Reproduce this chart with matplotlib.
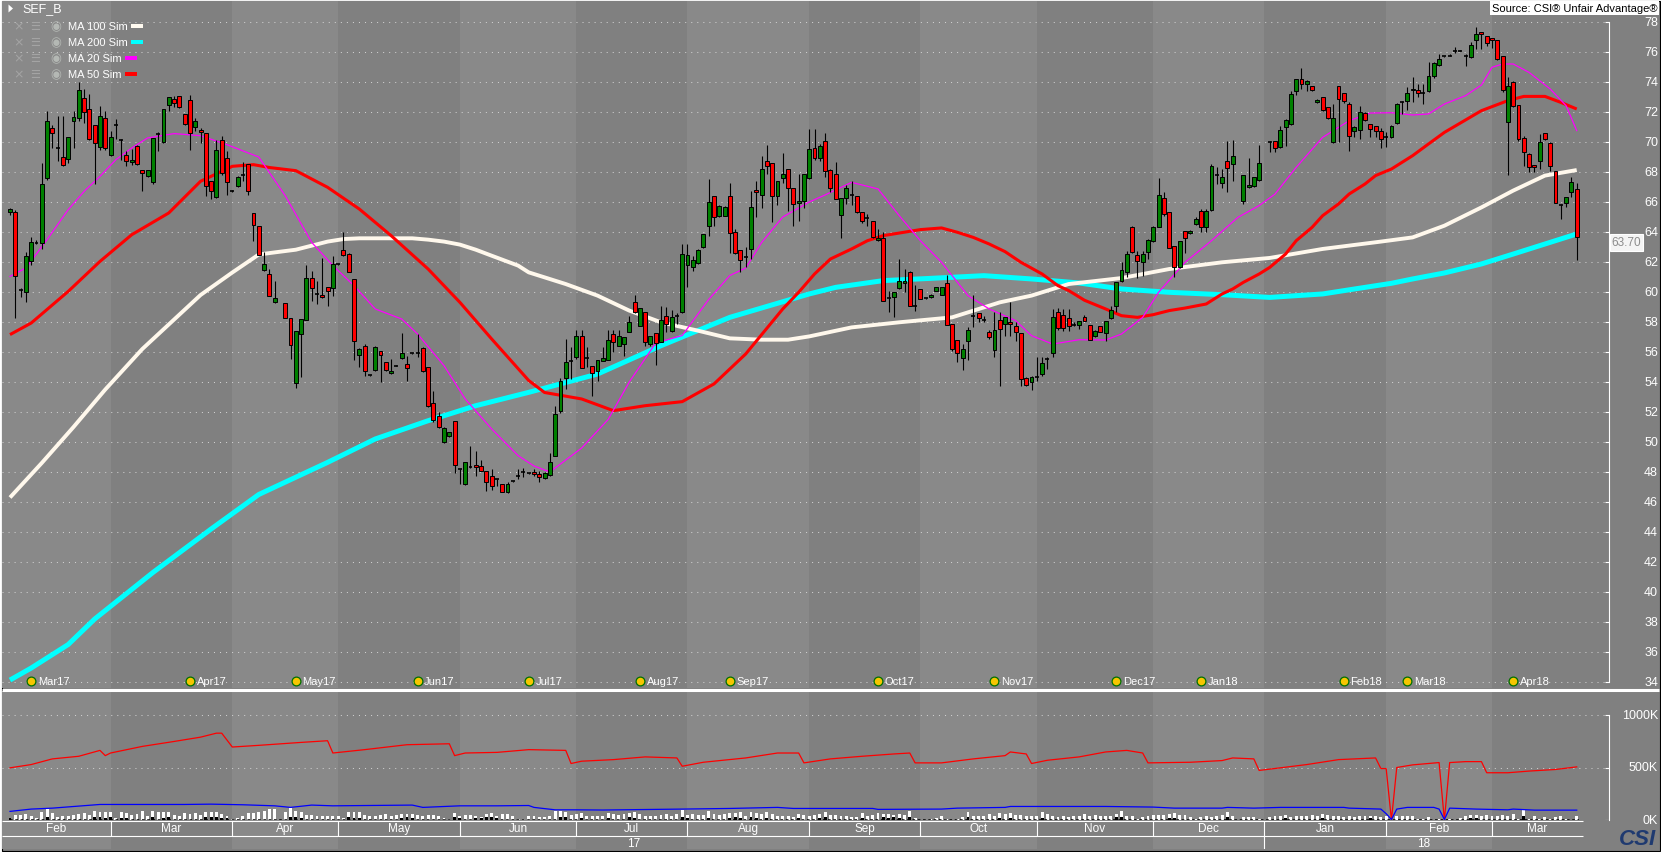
import numpy as np
import matplotlib
matplotlib.use("Agg")
import matplotlib.pyplot as plt
from matplotlib.transforms import blended_transform_factory
from matplotlib.patches import Rectangle, Polygon

plt.rcParams['font.family'] = ['Liberation Sans', 'DejaVu Sans']
plt.rcParams['lines.scale_dashes'] = False

# ---------------- data ----------------
symbol = "SEF_B"
source_text = "Source: CSI\u00ae Unfair Advantage\u00ae"
last_price = 63.70

# daily OHLC (weekday index; None = exchange holiday)
opens = [65.33,65.33,60.16,60.0,62.04,63.3,63.27,67.6,70.93,69.58,68.98,68.87,71.4,71.6,72.93,72.2,71.13,69.67,71.6,69.11,
 71.13,70.16,69.11,68.69,69.71,68.11,67.71,67.31,70.56,69.98,72.47,72.87,73.09,71.87,72.8,71.0,70.8,70.6,67.42,66.33,
 70.11,68.93,66.76,67.04,67.82,68.53,65.27,64.38,61.49,61.2,59.31,None,59.24,58.24,53.91,57.18,58.16,60.91,59.87,59.8,
 60.31,60.24,61.87,62.8,62.53,60.84,55.82,56.38,54.47,54.82,56.05,55.31,54.58,55.09,55.6,55.18,55.91,55.91,56.27,54.98,
 52.58,51.76,49.98,50.38,51.38,48.2,47.2,48.31,48.49,48.38,48.09,47.76,47.53,47.2,46.64,47.38,47.76,48.02,47.93,48.02,
 47.84,47.58,47.82,49.09,52.09,54.24,55.42,55.64,57.04,55.58,55.09,54.71,55.42,55.49,57.18,56.42,56.53,57.36,59.31,57.76,
 58.64,56.53,57.24,56.64,58.38,57.42,58.38,58.64,61.82,61.69,61.96,62.98,64.38,66.38,65.04,65.09,66.38,63.98,62.82,62.31,
 62.84,66.8,66.49,68.71,68.58,66.42,67.62,68.18,66.91,65.91,66.04,67.58,69.58,68.91,70.09,68.13,67.87,65.16,66.24,66.49,
 66.38,65.36,64.91,64.71,63.47,63.58,59.6,59.64,60.24,60.6,61.31,59.09,60.2,59.58,59.64,60.09,59.82,60.58,57.87,56.8,
 55.58,56.76,58.42,58.58,58.13,57.31,56.13,58.13,57.87,57.98,57.71,57.24,54.24,53.98,54.31,54.53,55.53,55.91,58.64,58.49,
 58.24,57.82,57.82,58.36,57.82,57.09,57.71,57.24,58.24,59.04,60.71,61.36,64.31,62.47,61.98,62.64,63.38,64.31,66.24,65.31,
 63.04,61.64,64.09,63.91,64.53,65.38,64.31,65.49,67.8,67.24,68.76,68.53,None,66.09,66.98,67.09,67.47,None,69.98,70.04,
 69.64,70.98,71.2,73.38,74.2,73.87,73.71,72.64,72.98,72.31,69.98,73.71,73.24,72.53,70.71,70.82,71.91,71.2,71.09,70.76,
 70.31,70.31,71.27,72.69,72.76,73.47,73.49,73.27,73.42,74.38,75.16,75.71,75.76,76.09,76.09,75.76,75.64,76.82,77.31,77.04,
 76.91,76.8,75.71,71.31,74.02,72.47,70.24,69.2,68.47,68.71,70.58,69.93,68.04,65.82,65.93,66.64,66.87]
highs = [65.6,65.44,60.27,62.64,63.67,63.5,68.6,72.09,71.16,71.76,71.76,70.33,72.04,74.0,73.53,73.2,71.16,72.38,72.09,70.76,
 71.53,70.22,69.38,69.53,69.82,68.11,68.16,70.24,70.64,72.2,73.0,73.04,73.09,71.87,73.11,71.6,70.93,70.6,67.42,70.16,
 70.38,69.38,66.8,67.71,68.67,68.53,65.27,64.4,62.64,61.53,60.76,None,59.24,58.24,57.38,58.18,61.8,61.38,60.76,62.27,
 60.31,62.42,61.9,64.02,62.6,60.84,56.27,56.53,54.5,56.38,56.05,55.31,55.53,55.12,57.24,55.76,55.95,57.2,56.31,54.98,
 53.38,51.98,50.98,50.69,51.38,48.2,48.64,49.76,49.42,48.82,48.09,48.2,47.56,47.2,47.31,47.4,48.2,48.24,47.96,48.2,
 48.09,47.98,49.27,52.42,54.3,56.87,56.31,57.47,57.47,56.31,55.09,55.49,56.31,57.47,57.47,57.47,56.98,58.42,59.8,58.91,
 58.64,57.04,57.24,59.09,58.98,58.8,58.6,63.2,63.2,62.42,62.87,63.84,67.53,66.38,65.8,65.71,67.27,64.2,62.82,62.98,
 66.76,67.42,69.09,69.8,68.58,67.38,69.24,68.18,66.91,67.84,67.84,70.87,70.87,69.87,70.6,68.2,68.64,66.24,67.13,67.42,
 66.38,65.36,65.18,64.71,64.2,64.02,60.09,59.98,62.2,61.53,61.38,60.47,60.2,59.62,59.87,60.36,60.36,61.16,57.87,56.8,
 56.53,57.64,59.8,58.58,58.42,57.49,58.64,58.64,58.31,59.31,57.98,57.24,54.31,54.42,55.64,55.64,55.64,58.87,58.93,58.87,
 58.87,57.98,58.04,58.49,57.82,57.47,57.71,58.09,59.09,60.64,61.98,62.76,64.38,62.76,62.76,63.53,64.38,67.6,66.69,65.31,
 63.04,63.42,64.09,64.13,64.98,65.53,65.53,68.53,68.31,68.2,70.09,70.13,None,67.82,68.93,67.69,69.82,None,70.04,70.04,
 71.09,71.53,73.42,74.2,74.93,74.13,73.76,72.87,72.98,72.31,72.53,73.71,73.24,72.64,71.04,72.42,71.98,71.2,71.09,70.93,
 70.64,71.13,72.6,72.76,73.64,74.31,73.87,73.87,75.31,75.31,75.87,75.76,75.87,76.36,76.12,75.87,76.64,77.64,77.36,77.09,
 76.91,76.8,75.71,74.36,74.09,72.47,70.42,69.24,68.47,70.53,70.58,70.02,68.04,65.87,66.31,67.69,67.27]
lows = [65.13,58.27,59.67,59.33,61.82,63.2,62.87,67.49,69.6,68.71,68.42,68.6,69.6,71.38,71.27,70.16,67.22,69.49,69.44,69.04,
 70.22,68.82,68.38,68.49,68.47,66.71,67.67,67.22,69.38,69.93,72.04,72.33,72.27,71.16,69.44,70.71,69.93,66.38,66.2,66.24,
 67.78,66.49,66.7,66.98,67.38,66.49,63.38,62.45,61.38,59.76,59.27,None,58.24,55.53,53.58,54.36,58.16,59.42,59.2,59.58,
 59.09,59.76,61.8,62.38,61.31,55.49,54.98,54.42,54.4,54.76,53.98,54.76,54.53,55.05,55.53,54.09,55.87,55.64,54.64,52.31,
 51.36,50.91,49.91,50.31,47.91,47.2,47.16,48.3,47.76,48.05,46.71,46.82,47.09,46.64,46.6,47.35,47.53,47.64,47.9,47.76,
 47.31,47.53,47.76,49.09,51.93,53.53,54.2,55.53,54.91,54.98,53.04,54.09,55.42,55.49,56.02,56.38,55.71,57.36,58.6,57.71,
 56.38,56.38,55.16,56.64,57.31,57.36,57.87,58.6,60.31,61.42,61.87,62.91,63.71,64.42,64.98,65.04,62.58,62.53,61.36,61.64,
 62.2,64.98,65.6,67.87,64.64,65.82,67.27,65.38,64.42,64.76,65.6,67.53,68.82,68.76,67.64,66.64,66.2,63.58,65.87,65.82,
 65.27,64.58,64.42,63.58,63.42,59.38,58.64,58.31,60.2,59.98,59.04,58.76,59.53,59.54,59.6,60.04,59.8,57.82,56.09,55.31,
 54.82,55.49,57.64,57.98,57.98,56.87,55.64,53.71,57.09,57.09,56.76,53.76,53.76,53.49,54.09,54.42,54.87,55.64,57.49,57.42,
 57.42,57.76,57.53,58.04,56.82,57.02,57.31,56.76,58.2,58.69,60.64,61.02,62.6,60.93,61.09,62.2,63.31,64.31,65.09,62.91,
 61.02,61.58,62.58,63.87,64.49,63.98,63.98,65.42,67.2,66.91,66.64,67.42,None,65.87,66.93,67.02,67.38,None,69.31,69.36,
 69.6,69.76,71.16,73.16,73.53,73.38,73.42,72.58,72.09,71.53,69.91,69.98,72.58,69.38,70.31,70.2,71.38,70.31,70.31,69.6,
 69.69,70.24,71.2,71.87,72.16,72.64,73.0,72.53,73.36,74.29,75.09,75.64,75.71,75.93,76.06,75.09,75.58,76.2,76.2,76.42,
 76.24,75.49,73.36,67.82,72.31,70.09,68.42,67.98,68.02,68.2,70.13,68.09,65.93,64.87,65.64,66.31,62.16]
closes = [65.53,61.04,60.16,62.38,63.31,63.3,67.2,71.42,70.6,69.58,68.47,70.33,71.67,73.47,72.02,70.2,69.93,71.71,69.6,70.33,
 71.13,70.16,68.76,68.82,68.53,67.93,68.11,70.24,70.56,72.2,73.0,72.6,72.31,71.22,70.6,71.42,70.67,67.09,66.71,69.49,
 67.93,67.33,66.76,67.67,67.82,66.76,64.49,62.49,61.87,59.76,59.58,None,58.24,56.49,57.38,58.18,60.91,60.24,59.87,59.64,
 60.09,61.87,61.87,62.49,61.31,56.71,56.2,54.71,54.47,56.31,55.8,54.82,54.76,55.09,55.91,54.91,55.91,55.91,54.76,52.38,
 51.47,50.98,50.91,50.64,48.49,48.2,48.64,48.31,48.31,48.05,47.31,47.09,47.53,46.64,47.2,47.38,47.76,48.02,47.93,47.87,
 47.64,47.91,48.64,51.87,54.09,55.31,55.42,57.04,54.91,55.58,54.58,55.49,55.58,56.8,56.64,57.09,56.98,57.98,58.64,58.91,
 56.64,57.04,56.58,58.13,57.87,58.31,58.38,62.53,62.49,62.13,62.8,63.84,65.98,64.98,65.71,65.64,63.91,62.58,62.16,62.31,
 65.64,66.64,68.18,68.38,66.38,67.38,67.84,66.96,65.84,66.07,67.84,69.51,68.91,69.71,68.04,66.91,66.2,66.24,66.91,66.49,
 65.31,64.71,64.91,63.64,63.6,59.42,59.6,59.98,60.71,60.76,59.04,59.09,59.53,59.58,59.82,60.31,60.31,57.82,56.2,55.91,
 56.2,57.47,58.42,58.24,58.13,56.98,57.47,57.53,58.31,57.87,57.31,54.2,53.8,54.31,54.31,55.24,55.53,58.31,57.58,57.6,
 57.76,57.82,58.04,58.04,56.82,57.42,57.36,58.04,58.82,60.64,61.49,62.53,62.64,62.09,62.53,63.49,64.31,66.47,65.2,62.91,
 61.64,63.38,63.6,64.09,64.87,64.31,65.42,68.38,67.8,67.64,68.24,69.04,None,67.82,67.16,67.69,68.58,None,69.98,69.58,
 70.82,71.49,73.18,74.2,73.87,74.09,73.47,72.8,72.13,71.58,71.58,72.87,72.71,70.42,71.0,71.98,71.47,70.87,70.71,70.2,
 70.31,71.09,72.53,72.69,73.24,73.56,73.29,73.27,74.38,75.27,75.53,75.71,75.76,76.09,76.09,75.76,76.49,77.2,77.2,76.6,
 76.82,75.53,73.47,73.71,72.38,70.2,69.31,68.36,68.36,69.98,70.2,68.38,65.93,65.82,66.31,67.36,63.70]

# moving averages (bar index, value)
ma200_idx = [0,4,11,16,27,38,47,60,69,79,88,98,111,123,136,151,156,165,174,184,193,202,210,219,229,238,248,254,261,265,271,278,284,290,296]
ma200_val = [34.13,34.93,36.5,38.2,41.3,44.2,46.5,48.64,50.2,51.42,52.42,53.31,54.53,56.42,58.31,59.87,60.31,60.76,60.91,61.09,
 60.87,60.6,60.2,59.98,59.82,59.64,59.87,60.2,60.58,60.87,61.27,61.87,62.53,63.2,63.87]
ma100_idx = [0,6,12,18,25,36,42,47,50,54,57,60,63,66,72,76,79,82,85,88,91,96,98,105,111,117,123,130,136,142,147,151,159,168,178,187,193,200,210,219,229,238,248,259,265,271,278,284,290,296]
ma100_val = [46.3,48.6,51.0,53.5,56.2,59.8,61.3,62.5,62.64,62.82,63.09,63.36,63.53,63.58,63.58,63.58,63.49,63.36,63.16,62.82,
 62.42,61.76,61.31,60.53,59.76,58.76,57.98,57.42,56.91,56.82,56.82,57.04,57.64,57.98,58.31,59.31,59.76,60.53,60.93,61.53,
 61.98,62.27,62.87,63.36,63.64,64.42,65.64,66.76,67.76,68.13]
ma50_idx = [0,4,11,17,23,30,36,42,46,49,54,60,66,72,79,85,91,98,101,108,114,120,127,133,139,146,149,152,155,159,162,165,168,172,176,
 179,182,185,188,191,195,198,200,203,207,210,213,216,219,222,226,229,231,233,236,238,241,243,246,248,251,253,256,258,261,265,268,271,278,283,286,290,293,296]
ma50_val = [57.16,57.93,60.04,62.04,63.82,65.27,67.38,68.38,68.49,68.3,68.09,66.98,65.53,63.76,61.53,59.31,56.87,54.1,53.3,52.87,
 52.09,52.42,52.69,53.87,55.87,58.87,59.98,61.2,62.2,62.87,63.42,63.76,63.93,64.16,64.27,
 63.98,63.64,63.2,62.69,61.98,61.2,60.42,60.1,59.45,58.87,58.42,58.31,58.49,58.76,58.93,59.2,59.87,60.2,60.64,61.2,
 61.64,62.53,63.42,64.31,65.09,65.87,66.53,67.2,67.76,68.2,69.09,69.87,70.64,72.09,72.76,73.04,73.04,72.64,72.2]
ma20_idx = [0,3,7,11,14,17,20,23,26,31,36,41,47,52,57,61,65,69,74,77,82,86,91,96,99,102,108,113,117,122,127,132,136,139,142,146,151,154,159,164,168,172,176,181,185,190,193,197,202,207,210,214,217,222,227,232,236,239,243,248,253,257,261,265,268,271,275,278,280,282,284,287,291,294,296]
ma20_val = [61.04,61.6,63.49,65.49,66.71,67.71,68.82,69.6,70.27,70.56,70.42,69.82,69.0,66.42,63.31,61.76,60.42,58.87,58.2,57.2,
 55.09,52.87,50.87,49.09,48.4,48.0,49.6,51.5,54.0,56.6,57.1,59.5,61.1,61.6,63.3,65.0,66.0,66.47,67.31,66.87,
 65.09,63.42,61.98,59.76,58.87,58.09,57.09,56.53,56.82,56.8,57.2,58.31,59.98,61.98,63.42,64.98,65.76,66.53,68.31,70.31,
 71.42,71.93,71.95,71.8,71.87,72.53,73.09,73.8,74.98,75.2,75.2,74.64,73.53,72.42,70.76]

# volume (thousands), second (black) volume series, open interest and volume average
volume_k = [19,47,47,57,41,19,79,104,63,31, 41,41,47,57,63,47,82,79,72,72, 15,72,63,47,53,88,41,82,79,72,
 72,47,41,63,57,63,47,79,79,79, 57,41,9,19,41,63,63,72,82,104, 104,None,79,113,88,79,47,47,35,41,
 41,35,41,19,72,79,72,47,41,35, 47,57,41,47,57,57,57,47,35,47, 47,41,19,9,63,41,47,47,41,25,
 57,63,41,57,57,41,9,5,41,35, 25,25,35,82,82,79,47,57,63,41, 41,41,35,63,57,47,57,63,72,57,
 41,35,41,50,57,41,57,94,50,57, 47,47,82,57,50,57,63,63,72,41, 72,63,57,72,57,41,35,41,31,57,
 47,35,50,57,72,50,47,35,41,25, 25,63,41,47,63,57,57,50,57,47, 82,16,3,3,9,16,41,9,3,9,
 25,72,41,35,35,57,41,63,57,66, 50,47,41,41,41,72,57,41,25,41, 25,35,41,57,41,47,41,35,41,57,
 88,41,41,9,25,41,47,47,50,57, 63,47,47,25,9,25,41,25,35,47, 72,41,None,25,25,25,9,None,25,35,
 35,47,25,35,41,41,47,41,57,47, 41,41,31,35,25,41,35,35,41,25, 41,0,41,41,41,41,9,9,25,3,
 9,0,9,3,16,35,47,47,41,47, 35,41,47,35,57,9,94,9,35,9, 25,9,25,41,9,3,35]
black_idx = [0,7,16,17,18,19,21,22,27,29,30,37,38,39,40,41,53,54,55,64,65,66,74,75,76,84,85,88,89,90,91,92,104,105,108,113,
 117,118,127,128,132,136,137,138,140,141,143,149,153,154,161,165,166,167,168,170,181,187,189,195,209,210,219,220,230,241,248,257,276,277,286]
black_k = [16,25,25,25,19,25,19,16,25,19,25,25,28,25,19,16,31,25,19,25,19,19,19,25,16,25,16,19,16,25,25,19,25,25,19,19,
 25,19,28,16,19,19,25,19,25,16,19,16,19,25,19,25,19,25,19,25,25,19,16,19,25,31,19,16,28,16,19,16,19,16,41]
oi_idx = [0,4,8,13,17,18,19,25,31,36,39,40,42,47,55,60,61,67,75,83,84,86,92,98,105,106,108,114,120,126,127,131,139,145,149,150,
 155,161,167,170,171,176,182,188,189,192,193,196,202,207,211,214,215,223,229,231,235,236,245,251,258,259,260,261,262,265,270,271,272,275,278,279,283,287,292,296]
oi_k = [497,528,582,607,663,613,638,701,748,789,827,827,695,711,739,755,638,670,717,726,613,638,644,670,663,538,560,575,601,591,
 512,550,591,638,638,544,582,607,629,638,544,544,582,613,648,629,538,569,601,648,663,638,544,550,566,591,582,472,528,575,
 591,490,490,0,500,525,547,0,547,556,556,450,450,466,481,506]
avg_idx = [0,4,8,17,33,38,44,50,53,57,61,76,78,85,92,98,99,103,107,112,127,136,145,148,163,164,176,179,188,189,207,216,220,229,230,
 235,240,252,253,259,260,261,262,264,269,270,271,272,277,283,284,288,296]
avg_k = [82,104,113,148,148,151,145,135,120,142,135,142,120,135,135,138,120,97,97,95,104,110,120,110,110,101,104,113,120,129,
 129,123,113,113,120,113,120,120,113,104,60,5,104,120,120,104,5,113,104,97,104,94,94]

# calendar axis
month_labels = ['Feb','Mar','Apr','May','Jun','Jul','Aug','Sep','Oct','Nov','Dec','Jan','Feb','Mar']
month_starts = [0,19,42,62,85,107,128,151,172,194,216,237,260,280]
year_labels = ['17','18']
year_starts = [0,237]
contract_labels = ['Mar17','Apr17','May17','Jun17','Jul17','Aug17','Sep17','Oct17','Nov17','Dec17','Jan18','Feb18','Mar18','Apr18']
contract_idx = [4,34,54,77,98,119,136,164,186,209,225,252,264,284]
price_ticks = list(range(34, 79, 2))
vol_ticks = [0, 500, 1000]
vol_tick_labels = ['0K', '500K', '1000K']
legend_rows = [('MA 100 Sim', '#fffaf0'), ('MA 200 Sim', '#00ffff'), ('MA 20 Sim', '#ff00ff'), ('MA 50 Sim', '#ff0000')]

# ---------------- figure ----------------
W, H = 1661.0, 853.0
fig = plt.figure(figsize=(W/100, H/100), dpi=100, facecolor='white')

def rect(x0, y0, x1, y1):
    return [x0/W, 1 - y1/H, (x1-x0)/W, (y1-y0)/H]

bg = fig.add_axes([0, 0, 1, 1], zorder=-10)
bg.set_xlim(0, W); bg.set_ylim(H, 0); bg.axis('off')
bg.add_patch(Rectangle((1.5, 1.5), W-3, H-3, facecolor='#808080', edgecolor='black', lw=0.8))

n = len(closes)
O = np.array(opens, dtype=float); Hh = np.array(highs, dtype=float)
L = np.array(lows, dtype=float); C = np.array(closes, dtype=float)
X = np.arange(n)
valid = ~np.isnan(C)

XL, XR = -1.511, 302.1
axis_end = n + 0.2
LIGHT, DARK = '#898989', '#808080'

ax = fig.add_axes(rect(2, 2, 1609, 689))
vax = fig.add_axes(rect(2, 692, 1609, 821))
xax = fig.add_axes(rect(2, 821, 1609, 850))

bounds = [XL] + month_starts[1:] + [XR]
for a in (ax, vax, xax):
    a.set_xlim(XL, XR)
    a.set_facecolor('none')
    for k in range(len(month_starts)):
        a.axvspan(bounds[k], bounds[k+1], color=LIGHT if k % 2 == 0 else DARK, lw=0, zorder=0)
    a.set_xticks([])
    for s in ('top', 'left', 'bottom', 'right'):
        a.spines[s].set_visible(False)

# --- price panel ---
ax.set_ylim(78 - (689-23)/15.0, 78 + (23-2)/15.0)
for p in price_ticks:
    ax.axhline(p, color='#cfcfcf', lw=0.75, ls=(0, (0.75, 3.6)), zorder=1)
ax.spines['right'].set_visible(True)
ax.spines['right'].set_color('white'); ax.spines['right'].set_linewidth(0.8)
ax.spines['right'].set_bounds(price_ticks[0], price_ticks[-1])
ax.yaxis.tick_right()
ax.set_yticks(price_ticks)
ax.tick_params(axis='y', direction='in', length=3, width=0.8, color='white', labelright=False, labelleft=False)

ax.plot(ma200_idx, ma200_val, color='#00ffff', lw=3.6, zorder=2, solid_capstyle='butt', solid_joinstyle='round')
ax.plot(ma100_idx, ma100_val, color='#fff8ec', lw=2.8, zorder=2.1, solid_capstyle='butt', solid_joinstyle='round')
ax.plot(ma50_idx, ma50_val, color='#ff0000', lw=2.2, zorder=2.2, solid_capstyle='butt', solid_joinstyle='round')
ax.plot(ma20_idx, ma20_val, color='#ff00ff', lw=0.9, zorder=2.3)

ax.vlines(X[valid], L[valid], Hh[valid], color='black', lw=0.8, zorder=3)
up = valid & (C > O); dn = valid & (C < O); dj = valid & (C == O)
bw = 0.74
ax.bar(X[up], (C-O)[up], bottom=O[up], width=bw, color='#008000', edgecolor='black', lw=0.7, zorder=4)
ax.bar(X[dn], (O-C)[dn], bottom=C[dn], width=bw, color='#ff0000', edgecolor='black', lw=0.7, zorder=4)
ax.hlines(C[dj], X[dj]-bw/2, X[dj]+bw/2, color='black', lw=1.2, zorder=4)

mk_tr = blended_transform_factory(ax.transData, ax.transAxes)
mk_y = (689-682)/687.0
ax.scatter(contract_idx, [mk_y]*len(contract_idx), s=40, c='#f7c600', edgecolors='#007000',
           linewidths=0.9, transform=mk_tr, zorder=6, clip_on=False)
for lab, ix in zip(contract_labels, contract_idx):
    ax.annotate(lab, (ix, mk_y), xycoords=mk_tr, xytext=(4.8, 0), textcoords='offset points',
                va='center', ha='left', color='white', fontsize=8, zorder=6)

# --- volume panel ---
vtop = (821-692)/105.0*1000
vax.set_ylim(0, vtop)
for v in vol_ticks[1:]:
    vax.axhline(v, color='#cfcfcf', lw=0.75, ls=(0, (0.75, 3.6)), zorder=1)
vax.spines['right'].set_visible(True)
vax.spines['right'].set_color('white'); vax.spines['right'].set_linewidth(0.8)
vax.spines['right'].set_bounds(vol_ticks[0], vol_ticks[-1])
vax.yaxis.tick_right()
vax.set_yticks(vol_ticks)
vax.tick_params(axis='y', direction='in', length=3, width=0.8, color='white', labelright=False, labelleft=False)
VOL = np.array(volume_k, dtype=float)
vv = ~np.isnan(VOL)
vax.bar(X[vv], VOL[vv], width=0.55, color='white', lw=0, zorder=3)
vax.bar(black_idx, black_k, width=0.55, color='black', lw=0, zorder=3.5)
vax.hlines(4, XL + 1.5, n - 0.5, color='black', lw=1.1, ls=(0, (1.9, 1.9)), zorder=3.6)
vax.plot(oi_idx, oi_k, color='#ff0000', lw=0.9, zorder=4)
vax.plot(avg_idx, avg_k, color='#0000ff', lw=0.9, zorder=4)

# --- date axis rows ---
xax.set_ylim(850, 821)
xax.set_yticks([])
xax.hlines(822, XL, axis_end, color='white', lw=0.8)
xax.hlines(836.7, XL, axis_end, color='white', lw=0.8)
for ms in month_starts[1:]:
    xax.vlines(ms, 822, 850 if ms in year_starts[1:] else 836.5, color='white', lw=0.8)
mb = [XL] + month_starts[1:] + [axis_end]
for k, lab in enumerate(month_labels):
    xax.text((mb[k] + mb[k+1]) / 2, 829.3, lab, ha='center', va='center', color='white', fontsize=8.5)
yb = [XL] + year_starts[1:] + [axis_end]
for k, lab in enumerate(year_labels):
    xax.text((yb[k] + yb[k+1]) / 2, 844.2, lab, ha='center', va='center', color='white', fontsize=8.5)

# --- foreground decorations ---
fg = fig.add_axes([0, 0, 1, 1], zorder=10)
fg.set_xlim(0, W); fg.set_ylim(H, 0); fg.axis('off'); fg.patch.set_alpha(0)
fg.plot([2, W-2], [690.5, 690.5], color='white', lw=2.2, solid_capstyle='butt')

ptr = blended_transform_factory(fg.transData, ax.transData)
for p in price_ticks:
    fg.text(1658, p, str(p), transform=ptr, ha='right', va='center', color='white', fontsize=9)
vtr = blended_transform_factory(fg.transData, vax.transData)
for v, lab in zip(vol_ticks, vol_tick_labels):
    fg.text(1658, v, lab, transform=vtr, ha='right', va='center', color='white', fontsize=9)

fg.text(1626.5, last_price, f"{last_price:.2f}", transform=ptr, ha='center', va='top', color='#8c8c8c',
        fontsize=8.5, bbox=dict(boxstyle='square,pad=0.18', facecolor='#f4f4f4', edgecolor='white', lw=0.8))

fg.text(1657, 9, source_text, ha='right', va='center', color='black', fontsize=8,
        bbox=dict(boxstyle='square,pad=0.15', facecolor='white', edgecolor='none'))

fg.add_patch(Polygon([(8.5, 5.5), (8.5, 13.5), (13, 9.5)], closed=True, facecolor='white', edgecolor='none'))
fg.text(22, 9.5, symbol, ha='left', va='center', color='white', fontsize=9)

row_y = [27, 43, 59, 75]
legend_texts = []
for (lab, col), yy in zip(legend_rows, row_y):
    fg.text(19, yy, '\u00d7', ha='center', va='center', color='#a4a4a4', fontsize=9, family=['DejaVu Sans'])
    fg.text(35, yy, '\u2630', ha='center', va='center', color='#a4a4a4', fontsize=8, family=['DejaVu Sans'])
    fg.text(56, yy, '\u25c9', ha='center', va='center', color='#b4b8b4', fontsize=9, family=['DejaVu Sans'])
    legend_texts.append(fg.text(68, yy, lab, ha='left', va='center', color='white', fontsize=8))
fig.canvas.draw()
for (lab, col), yy, t in zip(legend_rows, row_y, legend_texts):
    x_end = t.get_window_extent().x1
    fg.add_patch(Rectangle((x_end + 3, yy - 2), 12, 4, facecolor=col, edgecolor='none'))

fg.text(1637, 839.5, 'CSI', ha='center', va='center', color='#1f3a70', fontsize=16,
        fontweight='heavy', style='italic')

fig.savefig('out.png', dpi=100, facecolor='white')
